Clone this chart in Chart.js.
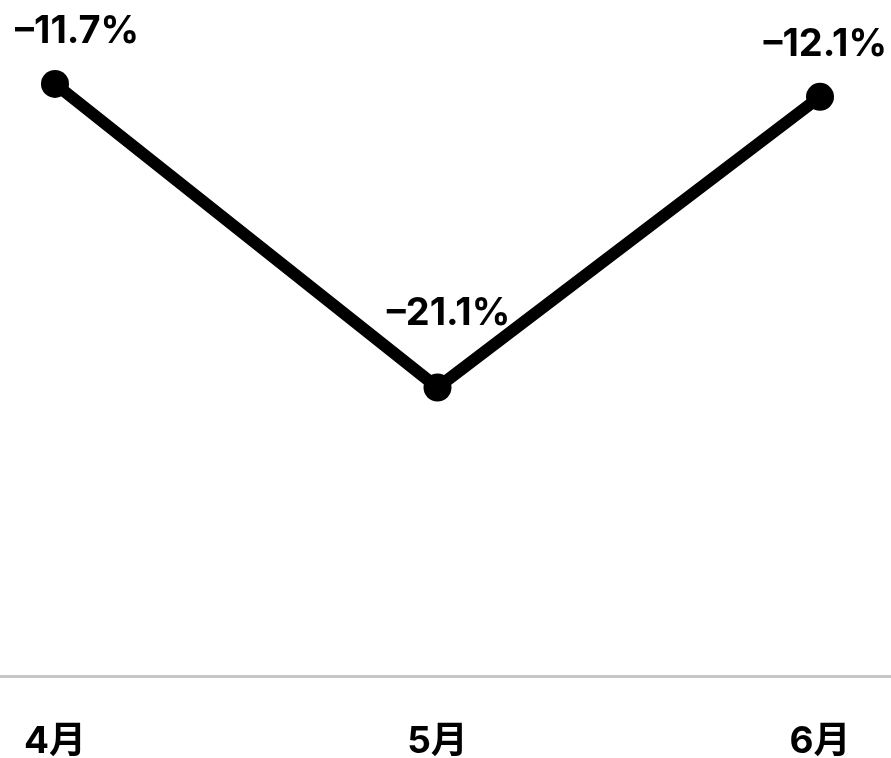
<!DOCTYPE html>
<html>
<head>
<meta charset="utf-8">
<script src="https://cdn.jsdelivr.net/npm/chart.js@4.4.1/dist/chart.umd.min.js"></script>
<style>
  html, body { margin: 0; padding: 0; background: #ffffff; }
  #wrap { width: 891px; height: 758px; position: relative; }
</style>
</head>
<body>
<div id="wrap"><canvas id="chart"></canvas></div>
<script>
// Monthly year-over-year change (%)
const months = ['4月', '5月', '6月'];
const changes = [-11.7, -21.1, -12.1];

const FONT = '"Inter", "Noto Sans CJK JP", sans-serif';

// Percent formatter with a typographic minus sign
const fmt = v => (v < 0 ? '\u2013' : '') + Math.abs(v).toFixed(1) + '%';

// Full-width baseline along the bottom of the plotting area
const baseline = {
  id: 'baseline',
  beforeDatasetsDraw(chart) {
    const { ctx, width, chartArea } = chart;
    ctx.save();
    ctx.strokeStyle = '#c6c6c6';
    ctx.lineWidth = 3;
    ctx.beginPath();
    ctx.moveTo(0, chartArea.bottom + 1.5);
    ctx.lineTo(width, chartArea.bottom + 1.5);
    ctx.stroke();
    ctx.restore();
  }
};

// Value labels above each point, kept inside the canvas
const valueLabels = {
  id: 'valueLabels',
  afterDatasetsDraw(chart) {
    const { ctx, width } = chart;
    const meta = chart.getDatasetMeta(0);
    const vals = chart.data.datasets[0].data;
    ctx.save();
    ctx.font = 'bold 38px ' + FONT;
    ctx.fillStyle = '#000000';
    ctx.textBaseline = 'alphabetic';
    ctx.textAlign = 'left';
    meta.data.forEach((pt, i) => {
      const text = fmt(vals[i]);
      const w = ctx.measureText(text).width;
      const prev = vals[i - 1], next = vals[i + 1];
      const valley = prev !== undefined && next !== undefined && vals[i] < prev && vals[i] < next;
      let left = pt.x + 11 - w / 2;
      left = Math.max(15, Math.min(width - 4 - w, left));
      const y = pt.y - (valley ? 63 : 41);
      ctx.fillText(text, left, y);
    });
    ctx.restore();
  }
};

new Chart(document.getElementById('chart'), {
  type: 'line',
  data: {
    labels: months,
    datasets: [{
      data: changes,
      borderColor: '#000000',
      backgroundColor: '#000000',
      borderWidth: 12,
      pointRadius: 14,
      pointHoverRadius: 14,
      pointBackgroundColor: '#000000',
      pointBorderWidth: 0,
      tension: 0,
      fill: false
    }]
  },
  options: {
    responsive: true,
    maintainAspectRatio: false,
    animation: false,
    events: [],
    layout: { padding: { top: 29, left: 55, right: 71, bottom: 0 } },
    plugins: { legend: { display: false }, tooltip: { enabled: false } },
    scales: {
      x: {
        offset: false,
        grid: { display: false, drawTicks: false },
        border: { display: false },
        afterFit(scale) {
          scale.height = 83;
          scale.paddingLeft = 0;
          scale.paddingRight = 0;
        },
        ticks: {
          color: '#000000',
          padding: 45,
          font: { family: FONT, size: 37, weight: 'bold' },
          maxRotation: 0,
          autoSkip: false
        }
      },
      y: {
        display: false,
        min: -30,
        max: -10
      }
    }
  },
  plugins: [baseline, valueLabels]
});
</script>
</body>
</html>
